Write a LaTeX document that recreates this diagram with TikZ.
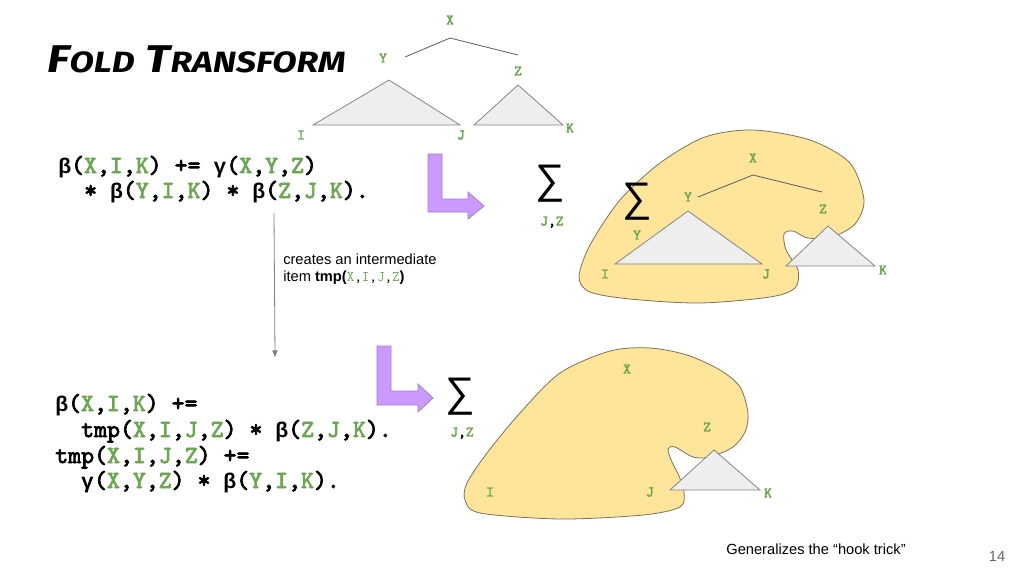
\documentclass[tikz,border=0pt]{standalone}
\usepackage{fontspec}
\usepackage{graphicx}
\setmainfont{Liberation Sans}
\newfontfamily\codefont{lmmono10-regular.otf}[FakeBold=3]
\newfontfamily\greekmono{Liberation Mono}
\newfontfamily\titlefont{Fira Sans}
\usetikzlibrary{arrows.meta}

\definecolor{vargreen}{HTML}{6AA84F}
\definecolor{hookfill}{HTML}{CC99FF}
\definecolor{hookline}{HTML}{A07CD6}
\definecolor{blobfill}{HTML}{FFE599}
\definecolor{blobline}{HTML}{7D7159}
\definecolor{trifill}{HTML}{EEEEEE}
\definecolor{trigray}{HTML}{858585}
\definecolor{treegray}{HTML}{595959}
\definecolor{pagegray}{HTML}{666666}

\newcommand{\vg}[1]{\textcolor{vargreen}{#1}}
\newcommand{\Bt}{{\greekmono\bfseries\fontsize{16}{19}\selectfont β}}
\newcommand{\Gm}{{\greekmono\bfseries\fontsize{16}{19}\selectfont γ}}
\newcommand{\fakesc}[2]{{\fontsize{29}{30}\selectfont #1}{\fontsize{22}{24}\selectfont #2}}

\begin{document}
\begin{tikzpicture}[x=0.75pt, y=-0.75pt,
    varlab/.style={font=\codefont\fontsize{11}{12}\selectfont, text=vargreen, inner sep=1pt},
    codeline/.style={font=\codefont\fontsize{18.5}{22}\selectfont, anchor=base west, inner sep=0pt},
    tri/.style={draw=trigray, fill=trifill, line width=0.6pt},
    blob/.style={draw=blobline, fill=blobfill, line width=0.6pt},
    hook/.style={draw=hookline, fill=hookfill, line width=0.6pt},
    treeline/.style={draw=treegray, line width=0.6pt},
    sumsign/.style={font=\fontsize{31}{31}\selectfont, inner sep=0pt},
    note/.style={font=\fontsize{11}{12.75}\selectfont, inner sep=0pt}]
    \useasboundingbox (0,0) rectangle (1024,576);

    % Title
    \node[anchor=base west, inner sep=0pt] (title) at (47,72)
        {\scalebox{1.21}[1]{\titlefont\bfseries\itshape\fakesc{F}{OLD}\hspace{7pt}\fakesc{T}{RANSFORM}}};

    % Top tree
    \draw[tri] (389,80) -- (460,125) -- (313,125) -- cycle;
    \draw[tri] (518,85) -- (563,125) -- (474,125) -- cycle;
    \node[varlab] (tX) at (450,20) {X};
    \node[varlab] (tY) at (383,58) {Y};
    \node[varlab] (tZ) at (518,71) {Z};
    \node[varlab] (tI) at (301,135) {I};
    \node[varlab] (tJ) at (461,135) {J};
    \node[varlab] (tK) at (570,128) {K};
    \coordinate (tYr) at (405,57);
    \coordinate (tXb) at (450,38);
    \coordinate (tZl) at (518,55);
    \draw[treeline] (tYr) -- (tXb) -- (tZl);

    % Original rule
    \node[codeline] (ruleA) at (58,173) {\Bt(\vg{X},\vg{I},\vg{K}) += \Gm(\vg{X},\vg{Y},\vg{Z})};
    \node[codeline] (ruleB) at (58,198) {\phantom{xx}* \Bt(\vg{Y},\vg{I},\vg{K}) * \Bt(\vg{Z},\vg{J},\vg{K}).};

    % Intermediate item
    \coordinate (foldTop) at (274,213);
    \coordinate (foldEnd) at (275,357);
    \draw[-{Triangle[length=5pt,width=4pt]}, draw=gray, line width=0.6pt] (foldTop) -- (foldEnd);
    \node[note, anchor=north west, align=left] (tmpnote) at (283,254)
        {creates an intermediate\\item \textbf{tmp(}{\ttfamily\vg{X},\vg{I},\vg{J},\vg{Z}}\textbf{)}};

    % First hook arrow and sums
    \draw[hook] (428,154) -- (442,154) -- (442,199) -- (468,199) -- (468,192) -- (484,206)
        -- (468,219) -- (468,212) -- (428,212) -- cycle;
    \node[sumsign] (sumA) at (550,184) {∑};
    \node[varlab] (sumAidx) at (552,222) {J\textcolor{black}{,}Z};

    % Folded blob, upper
    \draw[blob] plot[smooth cycle] coordinates {
        (753,130) (810,140) (850,163) (864,200) (855,224) (832,237) (808,238)
        (793,231) (784,234) (786,250) (798,270) (795,288) (770,297) (700,303)
        (630,299) (590,292) (579,277) (590,245) (620,200) (660,163) (705,137)};
    \draw[tri] (688,211) -- (762,264) -- (615,264) -- cycle;
    \draw[tri] (828,226) -- (875,266) -- (786,266) -- cycle;
    \node[varlab] (bX) at (753,158) {X};
    \node[varlab] (bY) at (688,197) {Y};
    \node[varlab] (bZ) at (823,209) {Z};
    \node[varlab] (bYa) at (637,235) {Y};
    \node[varlab] (bI) at (605,274) {I};
    \node[varlab] (bJ) at (766,274) {J};
    \node[varlab] (bK) at (883,270) {K};
    \coordinate (bYr) at (698,197);
    \coordinate (bXb) at (753,175);
    \coordinate (bZl) at (822,192);
    \draw[treeline] (bYr) -- (bXb) -- (bZl);
    \node[sumsign] (sumB) at (637,202) {∑};

    % Second hook arrow and sum
    \draw[hook] (377,346) -- (391,346) -- (391,391) -- (418,391) -- (418,384) -- (433,398)
        -- (418,412) -- (418,405) -- (377,405) -- cycle;
    \node[sumsign] (sumC) at (460,397) {∑};
    \node[varlab] (sumCidx) at (462,433) {J\textcolor{black}{,}Z};

    % Folded blob, lower
    \draw[blob] plot[smooth cycle] coordinates {
        (650,348) (687,355) (720,370) (740,387) (748,413) (745,432) (733,447)
        (710,457) (693,457) (675,447) (668,449) (672,462) (679,476) (684,492)
        (680,507) (643,515) (560,519) (480,513) (465,500) (467,483) (487,453)
        (520,413) (560,373) (610,351)};
    \draw[tri] (714,450) -- (760,490) -- (670,490) -- cycle;
    \node[varlab] (cX) at (627,369) {X};
    \node[varlab] (cZ) at (707,427) {Z};
    \node[varlab] (cI) at (490,492) {I};
    \node[varlab] (cJ) at (650,492) {J};
    \node[varlab] (cK) at (768,493) {K};

    % Split rules
    \node[codeline] (splitA) at (55,411) {\Bt(\vg{X},\vg{I},\vg{K}) +=};
    \node[codeline] (splitB) at (55,437) {\phantom{xx}tmp(\vg{X},\vg{I},\vg{J},\vg{Z}) * \Bt(\vg{Z},\vg{J},\vg{K}).};
    \node[codeline] (splitC) at (55,463) {tmp(\vg{X},\vg{I},\vg{J},\vg{Z}) +=};
    \node[codeline] (splitD) at (55,488) {\phantom{xx}\Gm(\vg{X},\vg{Y},\vg{Z}) * \Bt(\vg{Y},\vg{I},\vg{K}).};

    % Footer
    \node[note] (hooknote) at (816,549) {Generalizes the “hook trick”};
    \node[note, text=pagegray] (pagenum) at (997,556) {14};
\end{tikzpicture}
\end{document}
